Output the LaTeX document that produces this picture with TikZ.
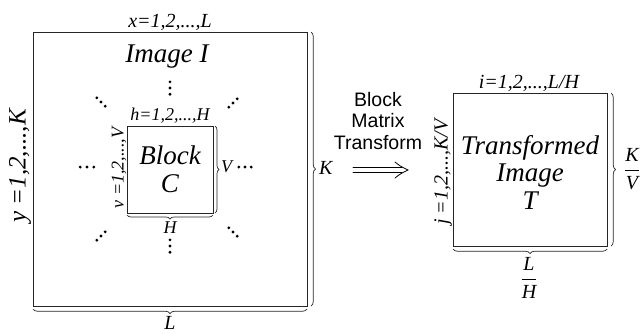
\documentclass[tikz,border=0pt]{standalone}
\usepackage{fontspec}
\setmainfont{Liberation Serif}
\setsansfont{Liberation Sans}
\usetikzlibrary{decorations.pathreplacing,arrows.meta,calc}
\tikzset{
  box/.style={draw=black!85, line width=0.9pt},
  brc/.style={draw=black!85, line width=0.7pt, decorate, decoration={brace, amplitude=4.5pt}},
  lbl/.style={inner sep=0pt, font=\fontsize{#1}{#1}\selectfont\itshape},
  lbl/.default=20,
  dotc/.style={fill=black, draw=none, circle, minimum size=3.1pt, inner sep=0pt},
  arr/.style={draw=black, line width=0.8pt, line cap=round},
}
\newcommand{\dotrow}[3]{%
  \foreach \k in {-1,0,1} {\node[dotc] at ($(#1)+\k*(#2,#3)$) {};}}
\begin{document}
\begin{tikzpicture}[x=1pt,y=-1pt]
\useasboundingbox (0,0) rectangle (644,333);
% Image
\draw[box] (33,32) rectangle (307,306);
\node[lbl=20] (xl) at (170,22) {x=1,2,...,L};
\node[lbl=27] (imgt) at (167,57) {Image I};
\node[lbl=25, rotate=90] (yl) at (20,166) {y =1,2,...,K};
\draw[brc] (311,32) -- (311,306);
\node[lbl=20, anchor=west] (Kl) at (319,168) {K};
\draw[brc] (307,309) -- (33,309);
\node[lbl=20] (Ll) at (170,323) {L};
% Block
\draw[box] (127,126) rectangle (213,213);
\node[lbl=18] (hl) at (170,116) {h=1,2,...,H};
\node[lbl=27, align=center] (blk) at (170,169) {Block\\[1pt]C};
\node[lbl=18, rotate=90] (vl) at (119,168) {v =1,2,...,V};
\draw[brc, decoration={amplitude=4pt}] (215,126) -- (215,213);
\node[lbl=18, anchor=west] (Vl) at (221,167) {V};
\draw[brc, decoration={amplitude=4pt}] (213,215) -- (127,215);
\node[lbl=18] (Hl) at (170,228) {H};
% dots
\coordinate (dT) at (170,88);
\coordinate (dB) at (170,246);
\coordinate (dL) at (87,167);
\coordinate (dR) at (245,167);
\coordinate (dUL) at (101,102);
\coordinate (dUR) at (233,103);
\coordinate (dLL) at (101,236);
\coordinate (dLR) at (233,232);
\dotrow{dT}{0}{6.2}
\dotrow{dB}{0}{6.2}
\dotrow{dL}{6.8}{0}
\dotrow{dR}{6.2}{0}
\dotrow{dUL}{4.2}{4.2}
\dotrow{dUR}{4.2}{-4.2}
\dotrow{dLL}{4.2}{-4.2}
\dotrow{dLR}{4.2}{4.2}
% transform
\node[font=\fontsize{19.5}{21.5}\selectfont\sffamily, align=center] (bmt) at (378,121) {Block\\Matrix\\Transform};
\coordinate (a1S) at (353,167.5);
\coordinate (a1E) at (402,167.5);
\coordinate (a2S) at (353,172.5);
\coordinate (a2E) at (402,172.5);
\coordinate (aTip) at (408,170);
\coordinate (aU) at (395,162);
\coordinate (aD) at (395,178);
\draw[arr] (a1S) -- (a1E);
\draw[arr] (a2S) -- (a2E);
\draw[arr] (aU) .. controls (400,166) .. (aTip) .. controls (400,174) .. (aD);
% Transformed image
\draw[box] (453,93) rectangle (607,246);
\node[lbl=20] (il) at (529,83) {i=1,2,...,L/H};
\node[lbl=27, align=center] (tt) at (530,172) {Transformed\\[0pt]Image\\[1pt]T};
\node[lbl=20, rotate=90] (jl) at (443,172) {j =1,2,...,K/V};
\draw[brc] (611,93) -- (611,246);
\node[lbl=20, anchor=west] (KV) at (624,169) {$\displaystyle\frac{\textit{K}}{\textit{V}}$};
\draw[brc] (607,249) -- (453,249);
\node[lbl=20] (LH) at (529,278) {$\displaystyle\frac{\textit{L}}{\textit{H}}$};
\end{tikzpicture}
\end{document}
